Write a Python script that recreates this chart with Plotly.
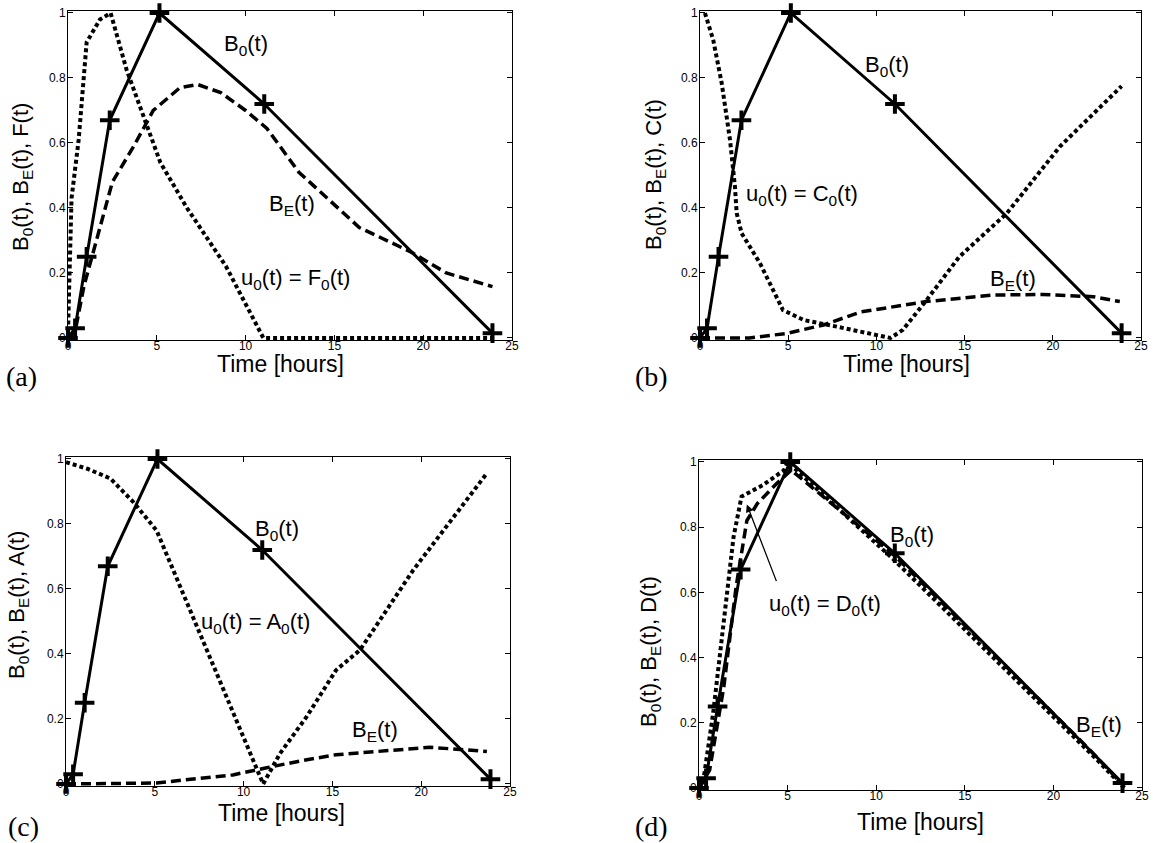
import plotly.graph_objects as go

W, H = 1157, 843

# ---------------- data ----------------
b0_t = [0, 0.4, 1.05, 2.35, 5.15, 11.05, 23.9]
b0_y = [0, 0.03, 0.25, 0.67, 1.0, 0.72, 0.015]

# panel (a)
a_be_t = [0, 0.4, 0.9, 1.6, 2.5, 3.7, 4.8, 6.3, 7.3, 8.6, 10.0, 11.2, 13.0, 14.9, 16.4, 19.3, 21.3, 23.9]
a_be_y = [0, 0.02, 0.16, 0.30, 0.48, 0.59, 0.70, 0.77, 0.78, 0.755, 0.70, 0.645, 0.51, 0.415, 0.34, 0.265, 0.20, 0.158]
a_u_t = [0, 0.05, 0.2, 0.6, 1.05, 1.8, 2.4, 3.3, 4.2, 5.2, 6.7, 8.9, 11.0, 24.0]
a_u_y = [0.02, 0.12, 0.43, 0.61, 0.91, 0.98, 1.0, 0.825, 0.69, 0.54, 0.40, 0.22, 0.0, 0.0]

# panel (b)
b_be_t = [0, 2.8, 4.9, 7.0, 9.1, 12.8, 16.6, 19.4, 22.3, 23.8]
b_be_y = [0, 0.0, 0.014, 0.04, 0.08, 0.112, 0.132, 0.134, 0.127, 0.112]
b_u_t = [0.28, 0.75, 1.23, 1.7, 1.98, 2.08, 2.36, 3.4, 4.7, 5.9, 7.75, 10.8, 11.5, 12.85, 14.7, 17.4, 20.4, 23.9]
b_u_y = [1.0, 0.917, 0.784, 0.61, 0.466, 0.384, 0.322, 0.23, 0.086, 0.055, 0.035, 0.0, 0.025, 0.117, 0.25, 0.384, 0.589, 0.775]

# panel (c)
c_be_t = [0, 5.1, 7.4, 9.4, 11.3, 13.2, 15.2, 17.7, 20.5, 23.7]
c_be_y = [0, 0.003, 0.017, 0.028, 0.05, 0.071, 0.09, 0.10, 0.113, 0.10]
c_u_t = [0, 1.2, 2.5, 3.8, 5.1, 11.1, 12.05, 13.55, 15.2, 16.55, 19.55, 23.7]
c_u_y = [0.99, 0.97, 0.94, 0.867, 0.78, 0.0, 0.094, 0.207, 0.35, 0.412, 0.658, 0.956]

# panel (d)
d_be_t = [0, 0.6, 1.4, 2.1, 2.7, 3.3, 4.4, 5.2, 11.0, 17.0, 22.0, 24.0]
d_be_y = [0, 0.055, 0.31, 0.62, 0.82, 0.873, 0.935, 0.975, 0.715, 0.39, 0.12, 0.005]
d_u_t = [0, 0.25, 0.8, 1.4, 1.95, 2.4, 3.6, 4.8, 5.0, 11.0, 22.4, 24.0]
d_u_y = [0, 0.025, 0.23, 0.515, 0.77, 0.894, 0.929, 0.975, 1.0, 0.70, 0.09, 0.0]

x_ticks = [0, 5, 10, 15, 20, 25]
x_tick_labels = ["0", "5", "10", "15", "20", "25"]
y_ticks = [0, 0.2, 0.4, 0.6, 0.8, 1.0]
y_tick_labels = ["0", "0.2", "0.4", "0.6", "0.8", "1"]

panel_letters = ["(a)", "(b)", "(c)", "(d)"]
y_titles = ["B<sub>0</sub>(t), B<sub>E</sub>(t), F(t)",
            "B<sub>0</sub>(t), B<sub>E</sub>(t), C(t)",
            "B<sub>0</sub>(t), B<sub>E</sub>(t), A(t)",
            "B<sub>0</sub>(t), B<sub>E</sub>(t), D(t)"]
u_labels = ["u<sub>0</sub>(t) = F<sub>0</sub>(t)",
            "u<sub>0</sub>(t) = C<sub>0</sub>(t)",
            "u<sub>0</sub>(t) = A<sub>0</sub>(t)",
            "u<sub>0</sub>(t) = D<sub>0</sub>(t)"]
b0_label = "B<sub>0</sub>(t)"
be_label = "B<sub>E</sub>(t)"
x_title = "Time [hours]"

# label positions (data coords) per panel: B0, BE, u0
lab_pos = [
    [(10.0, 0.90), (12.6, 0.41), (12.8, 0.18)],
    [(10.6, 0.837), (17.75, 0.178), (5.8, 0.44)],
    [(11.9, 0.78), (17.4, 0.163), (10.65, 0.495)],
    [(12.0, 0.773), (22.6, 0.19), (7.1, 0.56)],
]

# ---------------- layout geometry (screen pixels) ----------------
# pixel positions of x=0, x=25, y=1, y=0 per panel
boxes = [(68, 512, 13, 338), (700, 1141, 13, 338), (66, 510, 459, 784), (699, 1142, 462, 788)]
xtitle_px = [(280, 364), (906, 364), (281, 813), (920, 822)]
ytitle_px = [(22, 177), (655, 175), (18, 605), (650, 652)]
letter_px = [(22, 376), (652, 376), (23, 826), (652, 826)]
YPAD = 0.007


def px_x(x):
    return x / W


def px_y(y):
    return 1 - y / H


SANS = "Liberation Sans"
SERIF = "Liberation Serif"

fig = go.Figure()
dash_style = "10px,5px"
dot_style = "4px,3px"

series = [
    (a_be_t, a_be_y, a_u_t, a_u_y),
    (b_be_t, b_be_y, b_u_t, b_u_y),
    (c_be_t, c_be_y, c_u_t, c_u_y),
    (d_be_t, d_be_y, d_u_t, d_u_y),
]

annotations = []
layout_axes = {}
for i, (be_t, be_y, u_t, u_y) in enumerate(series):
    n = "" if i == 0 else str(i + 1)
    xa, ya = "x" + n, "y" + n
    fig.add_trace(go.Scatter(x=u_t, y=u_y, mode="lines", xaxis=xa, yaxis=ya,
                             line=dict(color="black", width=4, dash=dot_style), showlegend=False))
    fig.add_trace(go.Scatter(x=be_t, y=be_y, mode="lines", xaxis=xa, yaxis=ya,
                             line=dict(color="black", width=3.5, dash=dash_style), showlegend=False))
    fig.add_trace(go.Scatter(x=b0_t, y=b0_y, mode="lines+markers", xaxis=xa, yaxis=ya,
                             line=dict(color="black", width=3),
                             marker=dict(symbol="cross-thin", size=14, color="black",
                                         line=dict(color="black", width=4)),
                             cliponaxis=False, showlegend=False))
    l, r, t, b = boxes[i]
    ph = b - t
    common = dict(showline=True, linecolor="black", linewidth=1, mirror="ticks",
                  ticks="inside", ticklen=5, tickcolor="black", tickwidth=1,
                  showgrid=False, zeroline=False, automargin=False,
                  ticklabeloverflow="allow",
                  tickfont=dict(family=SANS, size=12, color="black"))
    layout_axes["xaxis" + n] = dict(domain=[px_x(l), px_x(r)], range=[0, 25], anchor=ya,
                                    tickvals=x_ticks, ticktext=x_tick_labels,
                                    ticklabelstandoff=-6, **common)
    layout_axes["yaxis" + n] = dict(domain=[px_y(b + YPAD * ph), px_y(t - YPAD * ph)],
                                    range=[-YPAD, 1 + YPAD], anchor=xa,
                                    tickvals=y_ticks, ticktext=y_tick_labels,
                                    ticklabelstandoff=-1, **common)
    # text labels
    labs = [b0_label, be_label, u_labels[i]]
    for (px, py), txt in zip(lab_pos[i], labs):
        annotations.append(dict(x=px, y=py, xref=xa, yref=ya, text=txt, showarrow=False,
                                xanchor="center", yanchor="middle",
                                font=dict(family=SANS, size=22, color="black")))
    xt = xtitle_px[i]
    annotations.append(dict(x=px_x(xt[0]), y=px_y(xt[1]), xref="paper", yref="paper",
                            text=x_title, showarrow=False, xanchor="center", yanchor="middle",
                            font=dict(family=SANS, size=23, color="black")))
    yt = ytitle_px[i]
    annotations.append(dict(x=px_x(yt[0]), y=px_y(yt[1]), xref="paper", yref="paper",
                            text=y_titles[i], showarrow=False, textangle=-90,
                            xanchor="center", yanchor="middle",
                            font=dict(family=SANS, size=22, color="black")))
    lt = letter_px[i]
    annotations.append(dict(x=px_x(lt[0]), y=px_y(lt[1]), xref="paper", yref="paper",
                            text=panel_letters[i], showarrow=False,
                            xanchor="center", yanchor="middle",
                            font=dict(family=SERIF, size=28, color="black")))

# arrow in panel (d)
annotations.append(dict(x=2.7, y=0.87, xref="x4", yref="y4", ax=4.4, ay=0.63,
                        axref="x4", ayref="y4", text="", showarrow=True,
                        arrowhead=2, arrowsize=1.2, arrowwidth=1.3, arrowcolor="black"))

fig.update_layout(width=W, height=H, margin=dict(l=0, r=0, t=0, b=0),
                  paper_bgcolor="white", plot_bgcolor="white",
                  annotations=annotations, showlegend=False, **layout_axes)

fig.write_html("out.html", config={"displayModeBar": False},
               post_script="document.body.style.margin='0px';document.body.style.overflow='hidden';")
